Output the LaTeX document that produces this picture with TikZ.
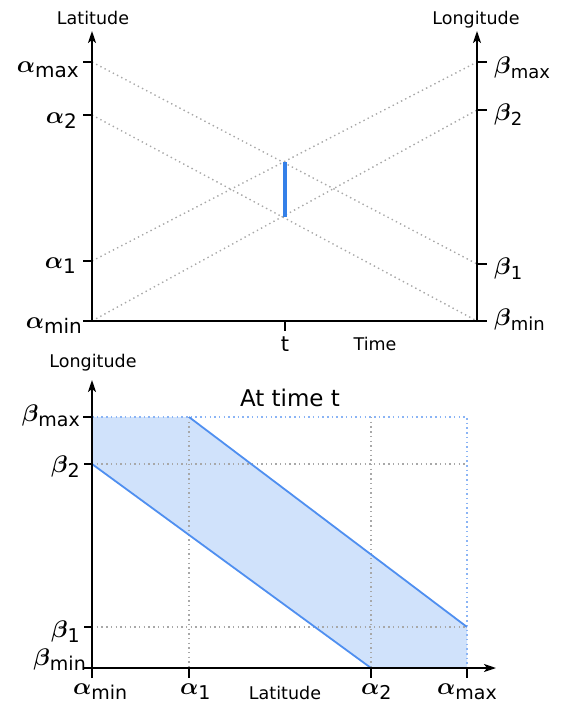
\documentclass[tikz,border=0pt]{standalone}
\usepackage{fix-cm}
\usepackage{amsmath}
\usepackage{fontspec}
\setmainfont{DejaVu Sans}
\usetikzlibrary{arrows.meta}
\definecolor{gridgray}{HTML}{A8A8A8}
\definecolor{bandblue}{HTML}{4F8FF0}
\definecolor{bandfill}{HTML}{D0E2FB}
\definecolor{boxblue}{HTML}{8AB4F5}
\definecolor{tblue}{HTML}{3580E8}
\newcommand\gl[3]{{\fontsize{24}{24}\selectfont$\boldsymbol{#1}$}\raisebox{-5pt}{\fontsize{#3}{#3}\selectfont#2}}
\begin{document}
\begin{tikzpicture}[x=1pt,y=-1pt,
  every node/.style={inner sep=0pt},
  axisline/.style={line width=2pt},
  arr/.style={axisline,-{Stealth[length=12pt,width=8pt,inset=3pt]}},
  tickline/.style={line width=1.8pt},
  guide/.style={draw=gridgray,line width=1.4pt,dash pattern=on 1.4pt off 3.3pt},
  boxline/.style={draw=boxblue,line width=1.5pt,dash pattern=on 1.5pt off 3.2pt},
  bandedge/.style={draw=bandblue,line width=1.8pt},
  axlabel/.style={font=\fontsize{17.5}{17.5}\selectfont}]
\useasboundingbox (0,0) rectangle (564,704);

% ---------------- top chart ----------------
\coordinate (a-max) at (92,62);
\coordinate (a-2) at (92,115);
\coordinate (a-1) at (92,261);
\coordinate (a-min) at (92,321);
\coordinate (b-max) at (477,62);
\coordinate (b-2) at (477,110);
\coordinate (b-1) at (477,264);
\coordinate (b-min) at (477,321);
\coordinate (ltop) at (92,31);
\coordinate (rtop) at (477,31);
\coordinate (tbl) at (83,321);
\coordinate (tbr) at (487,321);
\coordinate (tt) at (285,321);
\coordinate (ttick) at (285,331);
\coordinate (seg1) at (285,162);
\coordinate (seg2) at (285,217);

\draw[guide] (a-max) -- (b-1);
\draw[guide] (a-2) -- (b-min);
\draw[guide] (a-1) -- (b-max);
\draw[guide] (a-min) -- (b-2);

\draw[tblue,line width=3.2pt] (seg1) -- (seg2);

\draw[arr] (a-min) -- (ltop);
\draw[arr] (b-min) -- (rtop);
\draw[axisline] (tbl) -- (tbr);
\draw[tickline] (a-max) -- ++(-9,0);
\draw[tickline] (a-2) -- ++(-9,0);
\draw[tickline] (a-1) -- ++(-9,0);
\draw[tickline] (b-max) -- ++(10,0);
\draw[tickline] (b-2) -- ++(10,0);
\draw[tickline] (b-1) -- ++(10,0);
\draw[tickline] (tt) -- (ttick);

\node[axlabel,anchor=base] (latT) at (93,24) {Latitude};
\node[axlabel,anchor=base] (lonT) at (476,24) {Longitude};
\node[anchor=base east] (la-max) at (79,72) {\gl{\alpha}{max}{20}};
\node[anchor=base east] (la-2) at (77,123) {\gl{\alpha}{2}{20}};
\node[anchor=base east] (la-1) at (76,268) {\gl{\alpha}{1}{20}};
\node[anchor=base east] (la-min) at (82,328) {\gl{\alpha}{min}{20}};
\node[anchor=base west] (lb-max) at (494,73) {\gl{\beta}{max}{18}};
\node[anchor=base west] (lb-2) at (494,120) {\gl{\beta}{2}{18}};
\node[anchor=base west] (lb-1) at (494,274) {\gl{\beta}{1}{18}};
\node[anchor=base west] (lb-min) at (494,325) {\gl{\beta}{min}{18}};
\node[font=\fontsize{21}{21}\selectfont,anchor=base] (tlab) at (285,351) {t};
\node[axlabel,anchor=base] (timelab) at (375,350) {Time};

% ---------------- bottom chart ----------------
\coordinate (otick) at (92,678);
\coordinate (btop) at (92,380);
\coordinate (bleft) at (83,668);
\coordinate (bright) at (496,668);
\coordinate (g-b2l) at (92,464);
\coordinate (g-b2r) at (467,464);
\coordinate (g-b1l) at (92,627);
\coordinate (g-b1r) at (467,627);
\coordinate (g-a1t) at (189,417);
\coordinate (g-a1b) at (189,668);
\coordinate (g-a2t) at (371,417);
\coordinate (g-a2b) at (371,668);
\coordinate (g-tl) at (92,417);
\coordinate (g-tr) at (467,417);
\coordinate (g-br) at (467,668);

\fill[bandfill] (g-tl) -- (g-a1t) -- (g-b1r) -- (g-br) -- (g-a2b) -- (g-b2l) -- cycle;
\draw[guide] (g-b2l) -- (g-b2r);
\draw[guide] (g-b1l) -- (g-b1r);
\draw[guide] (g-a1t) -- (g-a1b);
\draw[guide] (g-a2t) -- (g-a2b);
\draw[boxline] (g-tl) -- (g-tr) -- (g-br);
\draw[bandedge] (g-a1t) -- (g-b1r);
\draw[bandedge] (g-b2l) -- (g-a2b);

\draw[arr] (otick) -- (btop);
\draw[arr] (bleft) -- (bright);
\draw[tickline] (g-tl) -- ++(-9,0);
\draw[tickline] (g-b2l) -- ++(-8,0);
\draw[tickline] (g-b1l) -- ++(-8,0);
\draw[tickline] (g-a1b) -- ++(0,10);
\draw[tickline] (g-a2b) -- ++(0,10);
\draw[tickline] (g-br) -- ++(0,10);

\node[axlabel,anchor=base] (lonB) at (93,367) {Longitude};
\node[font=\fontsize{23}{23}\selectfont,anchor=base] (title) at (290,406) {At time t};
\node[anchor=base east] (lbb-max) at (80,421) {\gl{\beta}{max}{19}};
\node[anchor=base east] (lbb-2) at (80,472) {\gl{\beta}{2}{19}};
\node[anchor=base east] (lbb-1) at (80,637) {\gl{\beta}{1}{19}};
\node[anchor=base east] (lbb-min) at (86,665) {\gl{\beta}{min}{19}};
\node[anchor=base west] (laa-min) at (73,694) {\gl{\alpha}{min}{19}};
\node[anchor=base west] (laa-1) at (180,694) {\gl{\alpha}{1}{19}};
\node[anchor=base west] (laa-2) at (361,694) {\gl{\alpha}{2}{19}};
\node[anchor=base west] (laa-max) at (437,694) {\gl{\alpha}{max}{19}};
\node[axlabel,anchor=base] (latB) at (285,699) {Latitude};
\end{tikzpicture}
\end{document}
